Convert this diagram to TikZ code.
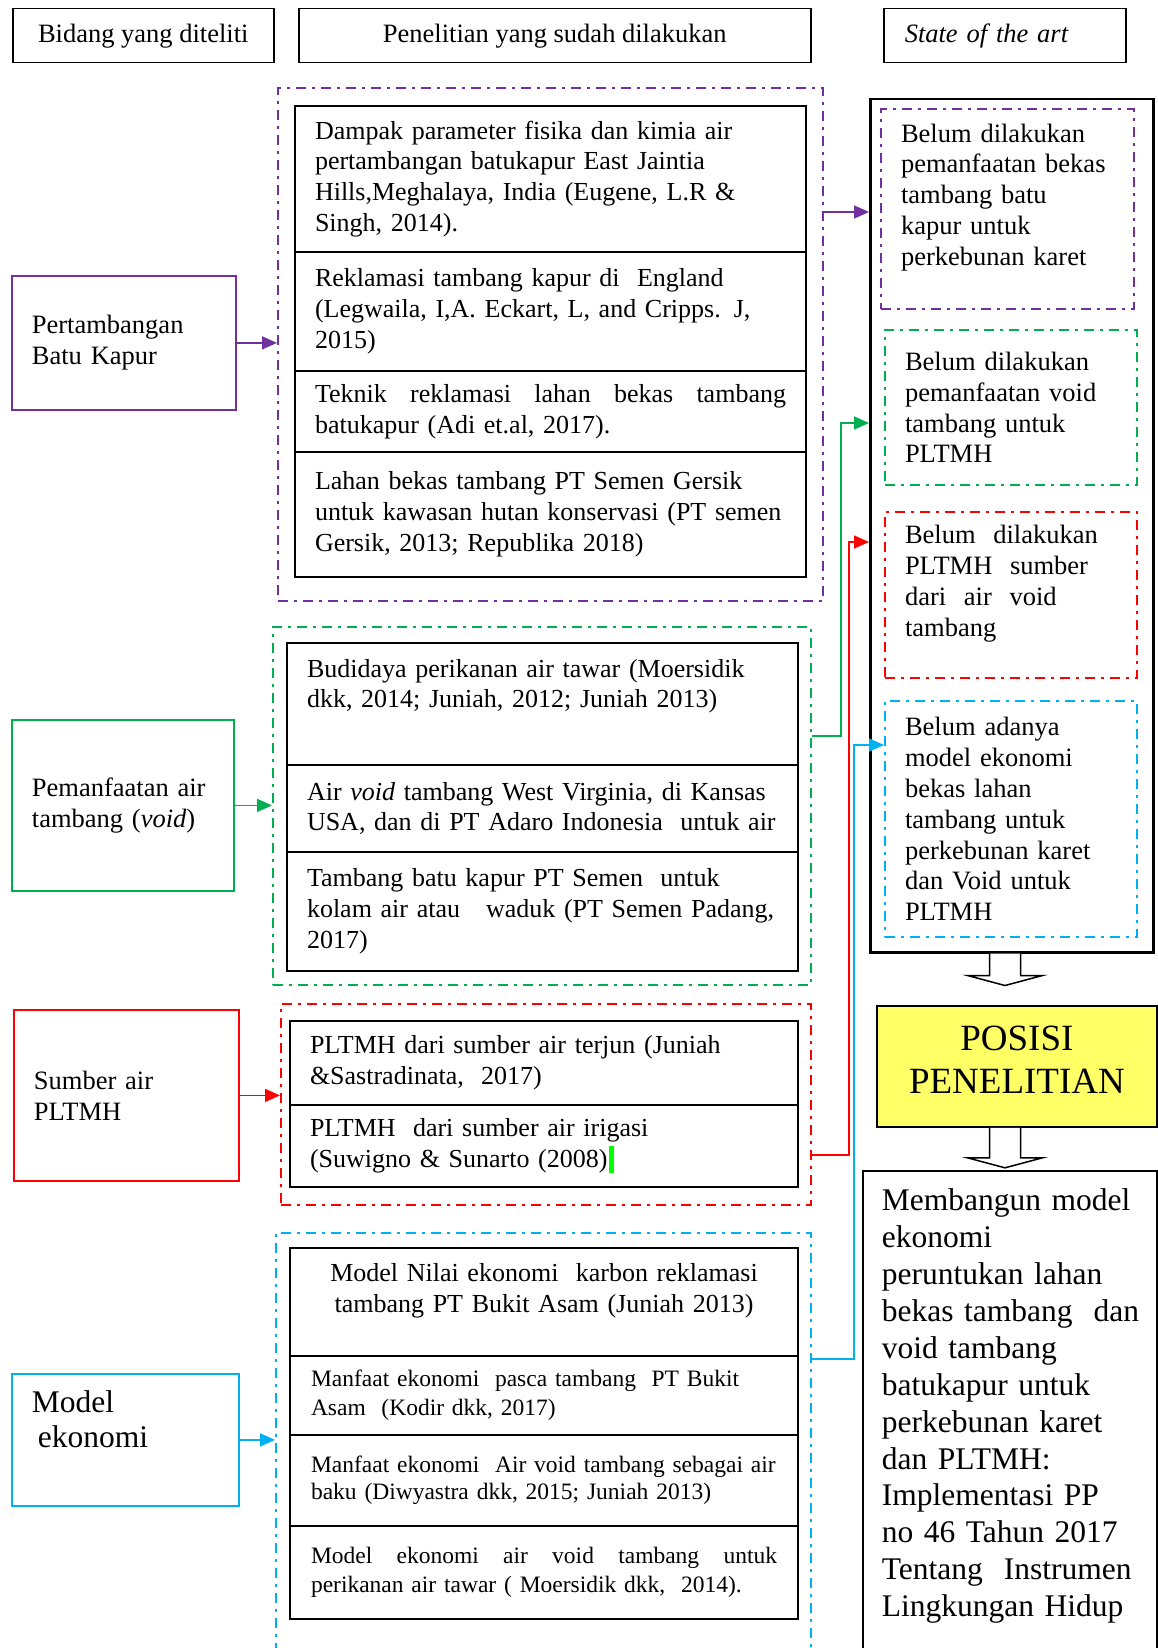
\documentclass[tikz,border=0pt]{standalone}
\usepackage{fontspec}
\setmainfont{Liberation Serif}
\usetikzlibrary{positioning,arrows.meta,calc}

\definecolor{ungu}{HTML}{7030A0}
\definecolor{hijau}{HTML}{00B050}
\definecolor{merah}{HTML}{FF0000}
\definecolor{biru}{HTML}{00B0F0}
\definecolor{kuning}{HTML}{FFFF66}
\definecolor{stabilo}{HTML}{00FF00}

\newcommand{\txtmain}{\fontsize{26.5pt}{30.8pt}\selectfont}
\newcommand{\txtriset}{\fontsize{26pt}{30.8pt}\selectfont}
\newcommand{\txtkecil}{\fontsize{23.5pt}{29pt}\selectfont}
\newcommand{\txtbesar}{\fontsize{31.5pt}{36.9pt}\selectfont}
\newcommand{\txtposisi}{\fontsize{37pt}{43pt}\selectfont}
\newcommand{\lowpad}[1]{\rule[-#1]{0pt}{#1}}

\begin{document}
\begin{tikzpicture}
[
x=1pt, y=-1pt,
judul/.style={draw, line width=1.5pt, anchor=north west, minimum height=54pt, font=\txtmain},
bidang/.style={draw=#1, line width=1.8pt, anchor=north west, inner xsep=20pt, align=left, font=\txtmain},
grup/.style={draw=#1, line width=2pt, dash pattern=on 10pt off 6pt on 3pt off 6pt, anchor=north west},
riset/.style 2 args={draw, line width=1.5pt, outer sep=0pt, inner xsep=20pt, minimum width=#1, text width=#2, align=left, font=\txtriset},
celah/.style={draw=#1, line width=2pt, dash pattern=on 10pt off 6pt on 3pt off 6pt, anchor=north west, inner xsep=20pt, align=left, font=\txtmain},
panah/.style={draw=#1, line width=1.6pt, -{Triangle[length=15pt,width=13pt]}},
pics/blokpanah/.style={code={\draw[line width=1.5pt, fill=white] (-15.5,0) -- (-15.5,#1) -- (-37.5,#1) -- (0,#1+10) -- (37.5,#1) -- (15.5,#1) -- (15.5,0);}},
]
\fill[white] (0,0) rectangle (1158,1648);
\useasboundingbox (0,0) rectangle (1158,1648);
\clip (0,0) rectangle (1158,1648);

\node[judul, minimum width=261pt] (jBidang) at (12,8) {Bidang yang diteliti};
\node[judul, minimum width=512pt] (jPenelitian) at (298,8) {Penelitian yang sudah dilakukan};
\node[judul, minimum width=242pt, inner xsep=21pt, text width=200pt, align=left] (jState) at (883,8) {\textit{State of the art}};

\node[bidang=ungu, minimum width=224pt, minimum height=134pt, text width=184pt] (bUngu) at (11,275) {Pertambangan\\ Batu Kapur};
\node[bidang=hijau, minimum width=222pt, minimum height=171pt, text width=182pt] (bHijau) at (11,719) {Pemanfaatan air\\ tambang (\textit{void})};
\node[bidang=merah, minimum width=225pt, minimum height=171pt, text width=185pt] (bMerah) at (13,1009) {Sumber air\\ PLTMH};
\node[bidang=biru, minimum width=227pt, minimum height=132pt, text width=187pt, font=\fontsize{31.5pt}{35pt}\selectfont] (bBiru) at (11,1373) {Model\\ \hspace*{6pt}ekonomi\lowpad{41pt}};

\node[grup=ungu, minimum width=545pt, minimum height=513pt] (gUngu) at (277,87) {};
\node[grup=hijau, minimum width=538pt, minimum height=358pt] (gHijau) at (272,626) {};
\node[grup=merah, minimum width=530pt, minimum height=201pt] (gMerah) at (280,1003) {};
\node[grup=biru, minimum width=535pt, minimum height=470pt] (gBiru) at (275,1232) {};

\node[riset={511pt}{471pt}, minimum height=146pt, anchor=north west] (rUngu1) at (295,106) {Dampak parameter fisika dan kimia air\\ pertambangan batukapur East Jaintia\\ Hills,Meghalaya, India (Eugene, L.R \&\\ Singh, 2014).};
\node[riset={511pt}{471pt}, minimum height=119pt, below=0pt of rUngu1] (rUngu2) {Reklamasi tambang kapur di~ England\\ \mbox{(Legwaila, I,A. Eckart, L, and Cripps. J,}\\ 2015)};
\node[riset={511pt}{471pt}, minimum height=81pt, below=0pt of rUngu2] (rUngu3) {\hbox to 471pt{Teknik\hfill reklamasi\hfill lahan\hfill bekas\hfill tambang}\\ batukapur (Adi et.al, 2017).};
\node[riset={511pt}{471pt}, minimum height=125pt, below=0pt of rUngu3] (rUngu4) {Lahan bekas tambang PT Semen Gersik\\ \mbox{untuk kawasan hutan konservasi (PT semen}\\ Gersik, 2013; Republika 2018)};

\node[riset={511pt}{471pt}, minimum height=122pt, anchor=north west] (rHijau1) at (287,643) {\mbox{Budidaya perikanan air tawar (Moersidik}\\ dkk, 2014; Juniah, 2012; Juniah 2013)\lowpad{41pt}};
\node[riset={511pt}{471pt}, minimum height=87pt, below=0pt of rHijau1] (rHijau2) {\mbox{Air \textit{void} tambang West Virginia, di Kansas}\\ \mbox{USA, dan di PT Adaro Indonesia~ untuk air}};
\node[riset={511pt}{471pt}, minimum height=119pt, below=0pt of rHijau2] (rHijau3) {Tambang batu kapur PT Semen~ untuk\\ \mbox{kolam air atau~~ waduk (PT Semen Padang,}\\ 2017)};

\node[riset={508pt}{468pt}, minimum height=84pt, anchor=north west] (rMerah1) at (290,1021) {PLTMH dari sumber air terjun (Juniah\\ \&Sastradinata,~ 2017)};
\node[riset={508pt}{468pt}, minimum height=82pt, below=0pt of rMerah1] (rMerah2) {PLTMH~ dari sumber air irigasi\\ (Suwigno \& Sunarto (2008)\hspace{1pt}\textcolor{stabilo}{\rule[-6pt]{5pt}{27pt}}};

\node[riset={508pt}{468pt}, minimum height=108pt, anchor=north west, align=center] (rBiru1) at (290,1248) {\mbox{Model Nilai ekonomi~ karbon reklamasi}\\ tambang PT Bukit Asam (Juniah 2013)\lowpad{28pt}};
\node[riset={508pt}{466pt}, inner xsep=21pt, minimum height=79pt, font=\txtkecil, below=0pt of rBiru1] (rBiru2) {\mbox{Manfaat ekonomi~ pasca tambang~ PT Bukit}\\ Asam~ (Kodir dkk, 2017)};
\node[riset={508pt}{466pt}, inner xsep=21pt, minimum height=91pt, font=\fontsize{23.5pt}{27.3pt}\selectfont, below=0pt of rBiru2] (rBiru3) {\mbox{Manfaat ekonomi~ Air void tambang sebagai air}\\ baku (Diwyastra dkk, 2015; Juniah 2013)};
\node[riset={508pt}{466pt}, inner xsep=21pt, minimum height=93pt, font=\txtkecil, below=0pt of rBiru3] (rBiru4) {\hbox to 466pt{Model\hfill ekonomi\hfill air\hfill void\hfill tambang\hfill untuk}\\ perikanan air tawar ( Moersidik dkk,~ 2014).};

\node[draw, line width=2.5pt, anchor=north west, minimum width=283pt, minimum height=853pt] (sota) at (869,98) {};
\node[celah=ungu, minimum width=253pt, minimum height=200pt, text width=213pt] (sUngu) at (880,108) {Belum dilakukan\\ pemanfaatan bekas\\ tambang batu\\ kapur untuk\\ perkebunan karet\lowpad{29pt}};
\node[celah=hijau, minimum width=252pt, minimum height=155pt, text width=212pt] (sHijau) at (884,329) {Belum dilakukan\\ pemanfaatan void\\ tambang untuk\\ PLTMH};
\node[celah=merah, minimum width=252pt, minimum height=166pt, text width=212pt] (sMerah) at (884,511) {Belum~ dilakukan\\ PLTMH~ sumber\\ dari~ air~ void\\ tambang\lowpad{28pt}};
\node[celah=biru, minimum width=252pt, minimum height=236pt, text width=212pt] (sBiru) at (884,700) {Belum adanya\\ model ekonomi\\ bekas lahan\\ tambang untuk\\ perkebunan karet\\ dan Void untuk\\ PLTMH};

\node[draw, line width=1.8pt, fill=kuning, anchor=north west, minimum width=280pt, minimum height=121pt, align=center, font=\txtposisi] (posisi) at (876,1005) {POSISI\\ PENELITIAN\lowpad{14pt}};
\node[draw, line width=1.8pt, anchor=north west, inner xsep=19pt, inner ysep=18pt, text width=256pt, align=left, font=\txtbesar] (usulan) at (862,1170) {Membangun model\\ ekonomi\\ peruntukan lahan\\ \mbox{bekas tambang~ dan}\\ void tambang\\ batukapur untuk\\ perkebunan karet\\ dan PLTMH:\\ Implementasi PP\\ no 46 Tahun 2017\\ \mbox{Tentang~ Instrumen}\\ Lingkungan Hidup\lowpad{80pt}};

\draw[panah=ungu] (bUngu.east) -- (gUngu.west |- bUngu.east);
\draw[panah=hijau] (bHijau.east) -- (gHijau.west |- bHijau.east);
\draw[panah=merah] (bMerah.east) -- (gMerah.west |- bMerah.east);
\draw[panah=biru] (bBiru.east) -- (gBiru.west |- bBiru.east);

\coordinate (keluarU) at (gUngu.east |- 0,212);
\coordinate (keluarH) at (gHijau.east |- 0,736);
\coordinate (keluarM) at (gMerah.east |- 0,1155);
\coordinate (keluarB) at (gBiru.east |- 0,1359);
\draw[panah=ungu] (keluarU) -- (sota.west |- keluarU);
\draw[panah=hijau] (keluarH) -- ++(29,0) |- (sota.west |- 0,423);
\draw[panah=merah] (keluarM) -- ++(37,0) |- (sota.west |- 0,542);
\draw[panah=biru] (keluarB) -- ++(42,0) |- (sBiru.west |- 0,745);

\pic at (sota.south -| 1005,0) {blokpanah=22};
\pic at (posisi.south -| 1005,0) {blokpanah=30};
\end{tikzpicture}
\end{document}
